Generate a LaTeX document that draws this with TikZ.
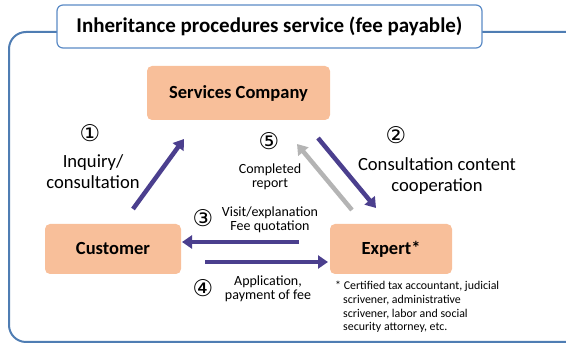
\documentclass[tikz,border=0pt]{standalone}
\usepackage{fontspec}
\setmainfont{Carlito}
\newfontfamily\circfont{DejaVu Sans}
\usetikzlibrary{arrows.meta}
\definecolor{framecol}{HTML}{4F7DB3}
\definecolor{titlecol}{HTML}{5B8BC6}
\definecolor{boxfill}{HTML}{F8BF9A}
\definecolor{arrcol}{HTML}{4B3F8E}
\definecolor{grayarr}{HTML}{B4B4B4}
\tikzset{
  entity/.style={fill=boxfill, rounded corners=5pt, font=\bfseries\fontsize{18.5}{20}\selectfont, inner sep=0pt},
  flow/.style={line width=4.5pt, draw=arrcol, -{Triangle[width=13pt,length=10pt]}},
  flowgray/.style={line width=4.5pt, draw=grayarr, -{Triangle[width=13pt,length=10pt]}},
  num/.style={font=\circfont\fontsize{23}{23}\selectfont, inner sep=0pt},
  biglabel/.style={font=\fontsize{18.6}{21}\selectfont, align=center, inner sep=0pt},
  smalllabel/.style={font=\fontsize{14}{14.5}\selectfont, align=center, inner sep=0pt},
  note/.style={font=\fontsize{11.9}{13.7}\selectfont, align=left, inner sep=0pt, anchor=north west}
}
\begin{document}
\begin{tikzpicture}[x=1pt,y=-1pt]
\useasboundingbox (0,0) rectangle (566,344);
\begin{scope}
\clip (0,0) rectangle (566,344);
\draw[framecol, line width=2pt, rounded corners=17pt] (9,32) rectangle (585,342);
\end{scope}
\node[draw=titlecol, line width=1.2pt, fill=white, rounded corners=6pt, minimum width=425pt, minimum height=43pt, inner sep=0pt,
  font=\bfseries\fontsize{21}{23}\selectfont] (title) at (269.5,26.5) {Inheritance procedures service (fee payable)};

\node[entity, minimum width=183pt, minimum height=54pt] (svc) at (238.5,93) {Services Company};
\node[entity, minimum width=136pt, minimum height=50pt] (cust) at (113,249) {Customer};
\node[entity, minimum width=122pt, minimum height=50pt] (exp) at (391,249) {Expert*};

\coordinate (a1s) at (133,209);
\coordinate (a1e) at (184,139);
\coordinate (a2s) at (318,138);
\coordinate (a2e) at (376,208);
\coordinate (a5s) at (352,210);
\coordinate (a5e) at (297,144);
\coordinate (a3s) at (299,242);
\coordinate (a3e) at (182,242);
\coordinate (a4s) at (205,262);
\coordinate (a4e) at (328,262);

\draw[flow] (a1s) -- (a1e);
\draw[flow] (a2s) -- (a2e);
\draw[flowgray] (a5s) -- (a5e);
\draw[flow] (a3s) -- (a3e);
\draw[flow] (a4s) -- (a4e);

\node[num] (n1) at (90,133) {①};
\node[biglabel] (l1) at (93,172) {Inquiry/\\consultation};
\node[num] (n5) at (269,141) {⑤};
\node[smalllabel] (l5) at (270,177) {Completed\\report};
\node[num] (n2) at (396,135) {②};
\node[biglabel] (l2) at (437,176) {Consultation content\\cooperation};
\node[num] (n3) at (203,218) {③};
\node[smalllabel] (l3) at (270,220) {Visit/explanation\\Fee quotation};
\node[num] (n4) at (203,288) {④};
\node[smalllabel] (l4) at (268,289) {Application,\\payment of fee};
\node[note] (fn) at (335,281) {*\ Certified tax accountant, judicial\\\hspace*{8pt}scrivener, administrative\\\hspace*{8pt}scrivener, labor and social\\\hspace*{8pt}security attorney, etc.};
\end{tikzpicture}
\end{document}
